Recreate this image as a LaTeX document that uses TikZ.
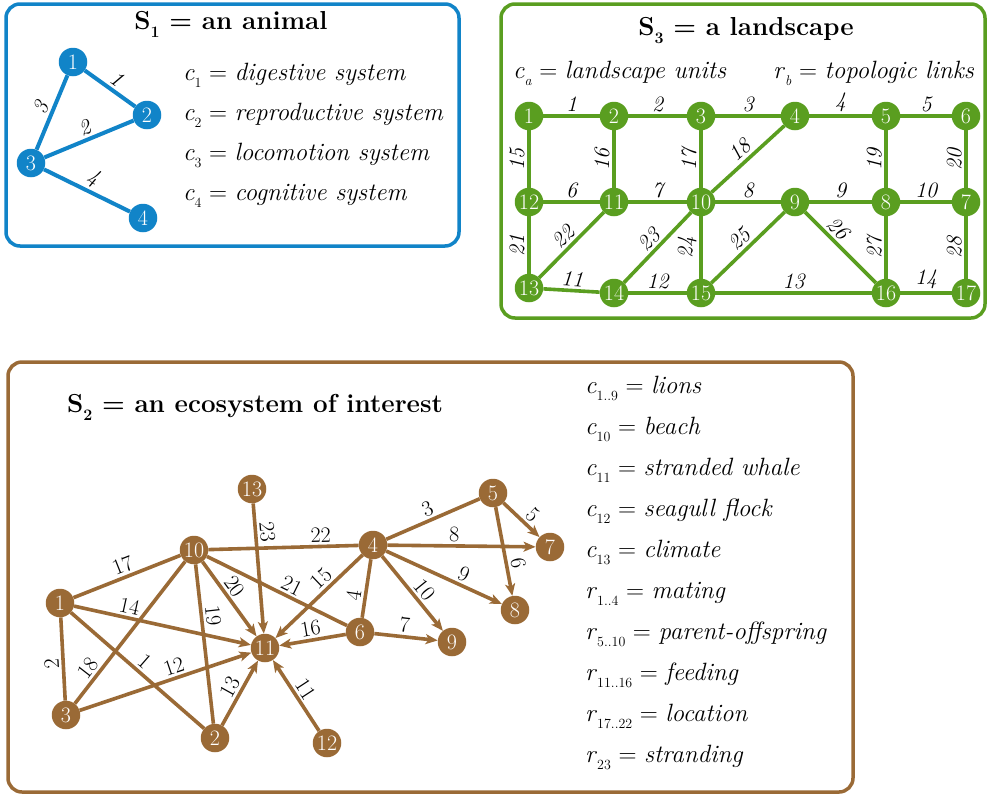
\documentclass[tikz,border=0pt]{standalone}
\usetikzlibrary{arrows.meta}
\definecolor{cblue}{HTML}{1184C8}
\definecolor{cgreen}{HTML}{5A9E20}
\definecolor{cbrown}{HTML}{9A6A36}
\newcommand{\lsub}[1]{\raisebox{-7pt}{\fontsize{14}{14}\selectfont\upshape\mdseries #1}}
\newcommand{\lsubb}[1]{\raisebox{-8pt}{\fontsize{16}{16}\selectfont #1}}
\begin{document}
\begin{tikzpicture}[x=1pt,y=-1pt,
  frame/.style={line width=3.5pt, rounded corners=14pt},
  vtx/.style={circle, inner sep=0pt, minimum size=28.5pt, text=white, font=\fontsize{22}{22}\selectfont},
  bv/.style={vtx, fill=cblue}, gv/.style={vtx, fill=cgreen}, rv/.style={vtx, fill=cbrown},
  bl/.style={line width=4pt, cblue},
  gl/.style={line width=3.6pt, cgreen},
  rl/.style={line width=3.6pt, cbrown},
  ra/.style={rl, -{Stealth[length=12pt,width=10pt,inset=3pt]}},
  ral/.style={rl, {Stealth[length=12pt,width=10pt,inset=3pt]}-},
  ilab/.style={text=black, font=\fontsize{22}{22}\selectfont\itshape, inner sep=2.5pt, sloped, above},
  ulab/.style={text=black, font=\fontsize{22}{22}\selectfont, inner sep=2.5pt, sloped, above},
  txt/.style={anchor=base west, inner sep=0pt, font=\fontsize{25}{25}\selectfont},
  ttl/.style={anchor=base, inner sep=0pt, font=\fontsize{26}{26}\selectfont\bfseries},
]
\useasboundingbox (0,0) rectangle (987,796);
\fill[white] (0,0) rectangle (987,796);

% ---------------- S1 ----------------
\draw[frame, cblue] (6,4) rectangle (459,246);
\node[ttl] (t1) at (231,29) {S\lsubb{1} = an animal};
\node[bv] (a1) at (73,62) {1};
\node[bv] (a2) at (147,115) {2};
\node[bv] (a3) at (31,163) {3};
\node[bv] (a4) at (143,218) {4};
\draw[bl] (a1) -- node[ilab] {1} (a2);
\draw[bl] (a3) -- node[ilab] {3} (a1);
\draw[bl] (a3) -- node[ilab] {2} (a2);
\draw[bl] (a3) -- node[ilab] {4} (a4);
\node[txt] (c1) at (183,80) {\textit{c}\lsub{1} = \textit{digestive system}};
\node[txt] (c2) at (183,120) {\textit{c}\lsub{2} = \textit{reproductive system}};
\node[txt] (c3) at (183,160) {\textit{c}\lsub{3} = \textit{locomotion system}};
\node[txt] (c4) at (183,200) {\textit{c}\lsub{4} = \textit{cognitive system}};

% ---------------- S3 ----------------
\draw[frame, cgreen] (501,4) rectangle (985,318);
\node[ttl] (t3) at (746,35) {S\lsubb{3} = a landscape};
\node[txt] (ca) at (513,78) {\textit{c}\lsub{\itshape a} = \textit{landscape units}};
\node[txt] (rb) at (773,78) {\textit{r}\lsub{\itshape b} = \textit{topologic links}};
\node[gv] (g1) at (529,116) {1};
\node[gv] (g2) at (614,116) {2};
\node[gv] (g3) at (701,116) {3};
\node[gv] (g4) at (795,116) {4};
\node[gv] (g5) at (886,116) {5};
\node[gv] (g6) at (966,116) {6};
\node[gv] (g12) at (529,202) {12};
\node[gv] (g11) at (614,202) {11};
\node[gv] (g10) at (701,202) {10};
\node[gv] (g9) at (795,202) {9};
\node[gv] (g8) at (886,202) {8};
\node[gv] (g7) at (966,202) {7};
\node[gv] (g13) at (529,288) {13};
\node[gv] (g14) at (614,293) {14};
\node[gv] (g15) at (701,293) {15};
\node[gv] (g16) at (886,293) {16};
\node[gv] (g17) at (966,293) {17};
\draw[gl] (g1) -- node[ilab] {1} (g2);
\draw[gl] (g2) -- node[ilab] {2} (g3);
\draw[gl] (g3) -- node[ilab] {3} (g4);
\draw[gl] (g4) -- node[ilab] {4} (g5);
\draw[gl] (g5) -- node[ilab] {5} (g6);
\draw[gl] (g12) -- node[ilab] {6} (g11);
\draw[gl] (g11) -- node[ilab] {7} (g10);
\draw[gl] (g10) -- node[ilab] {8} (g9);
\draw[gl] (g9) -- node[ilab] {9} (g8);
\draw[gl] (g8) -- node[ilab] {10} (g7);
\draw[gl] (g13) -- node[ilab] {11} (g14);
\draw[gl] (g14) -- node[ilab] {12} (g15);
\draw[gl] (g15) -- node[ilab] {13} (g16);
\draw[gl] (g16) -- node[ilab] {14} (g17);
\draw[gl] (g12) -- node[ilab] {15} (g1);
\draw[gl] (g11) -- node[ilab] {16} (g2);
\draw[gl] (g10) -- node[ilab] {17} (g3);
\draw[gl] (g10) -- node[ilab] {18} (g4);
\draw[gl] (g8) -- node[ilab] {19} (g5);
\draw[gl] (g7) -- node[ilab] {20} (g6);
\draw[gl] (g13) -- node[ilab] {21} (g12);
\draw[gl] (g13) -- node[ilab] {22} (g11);
\draw[gl] (g14) -- node[ilab] {23} (g10);
\draw[gl] (g15) -- node[ilab] {24} (g10);
\draw[gl] (g15) -- node[ilab] {25} (g9);
\draw[gl] (g9) -- node[ilab, pos=0.35] {26} (g16);
\draw[gl] (g16) -- node[ilab] {27} (g8);
\draw[gl] (g17) -- node[ilab] {28} (g7);

% ---------------- S2 ----------------
\draw[frame, cbrown] (8,362) rectangle (853,792);
\node[ttl] (t2) at (255,412) {S\lsubb{2} = an ecosystem of interest};
\node[rv] (e1) at (60,603) {1};
\node[rv] (e2) at (215,738) {2};
\node[rv] (e3) at (66,715) {3};
\node[rv] (e4) at (373,545) {4};
\node[rv] (e5) at (493,493) {5};
\node[rv] (e6) at (360,632) {6};
\node[rv] (e7) at (550,547) {7};
\node[rv] (e8) at (515,610) {8};
\node[rv] (e9) at (452,642) {9};
\node[rv] (e10) at (194,550) {10};
\node[rv] (e11) at (265,648) {11};
\node[rv] (e12) at (327,743) {12};
\node[rv] (e13) at (252,489) {13};
\draw[rl] (e1) -- node[ulab] {17} (e10);
\draw[ra] (e1) -- node[ulab, pos=0.3] {14} (e11);
\draw[rl] (e3) -- node[ulab, allow upside down, pos=0.45] {2} (e1);
\draw[rl] (e1) -- node[ulab] {1} (e2);
\draw[rl] (e3) -- node[ulab, pos=0.2] {18} (e10);
\draw[ra] (e3) -- node[ulab, pos=0.57] {12} (e11);
\draw[rl] (e10) -- node[ulab, pos=0.33] {19} (e2);
\draw[ra] (e10) -- node[ulab, pos=0.42] {20} (e11);
\draw[rl] (e10) -- node[ulab, pos=0.57] {21} (e6);
\draw[rl] (e10) -- node[ulab, pos=0.75] {22} (e4);
\draw[ra] (e13) -- node[ulab, pos=0.23] {23} (e11);
\draw[ra] (e2) -- node[ulab] {13} (e11);
\draw[ral] (e11) -- node[ulab, pos=0.5] {11} (e12);
\draw[ral] (e11) -- node[ulab, pos=0.5] {16} (e6);
\draw[ral] (e11) -- node[ulab, pos=0.62] {15} (e4);
\draw[rl] (e6) -- node[ulab, pos=0.35] {4} (e4);
\draw[ra] (e6) -- node[ulab, pos=0.46] {7} (e9);
\draw[ra] (e4) -- node[ulab, pos=0.55] {10} (e9);
\draw[ra] (e4) -- node[ulab, pos=0.63] {9} (e8);
\draw[ra] (e4) -- node[ulab, pos=0.45] {8} (e7);
\draw[rl] (e4) -- node[ulab, pos=0.49] {3} (e5);
\draw[ra] (e5) -- node[ulab, pos=0.6] {5} (e7);
\draw[ra] (e5) -- node[ulab, pos=0.66] {6} (e8);

\node[txt] (d1) at (585,393) {\textit{c}\lsub{1..9} = \textit{lions}};
\node[txt] (d2) at (585,434) {\textit{c}\lsub{10} = \textit{beach}};
\node[txt] (d3) at (585,475) {\textit{c}\lsub{11} = \textit{stranded whale}};
\node[txt] (d4) at (585,516) {\textit{c}\lsub{12} = \textit{seagull flock}};
\node[txt] (d5) at (585,557) {\textit{c}\lsub{13} = \textit{climate}};
\node[txt] (d6) at (585,598) {\textit{r}\lsub{1..4} = \textit{mating}};
\node[txt] (d7) at (585,639) {\textit{r}\lsub{5..10} = \textit{parent-offspring}};
\node[txt] (d8) at (585,680) {\textit{r}\lsub{11..16} = \textit{feeding}};
\node[txt] (d9) at (585,721) {\textit{r}\lsub{17..22} = \textit{location}};
\node[txt] (d10) at (585,762) {\textit{r}\lsub{23} = \textit{stranding}};
\end{tikzpicture}
\end{document}
